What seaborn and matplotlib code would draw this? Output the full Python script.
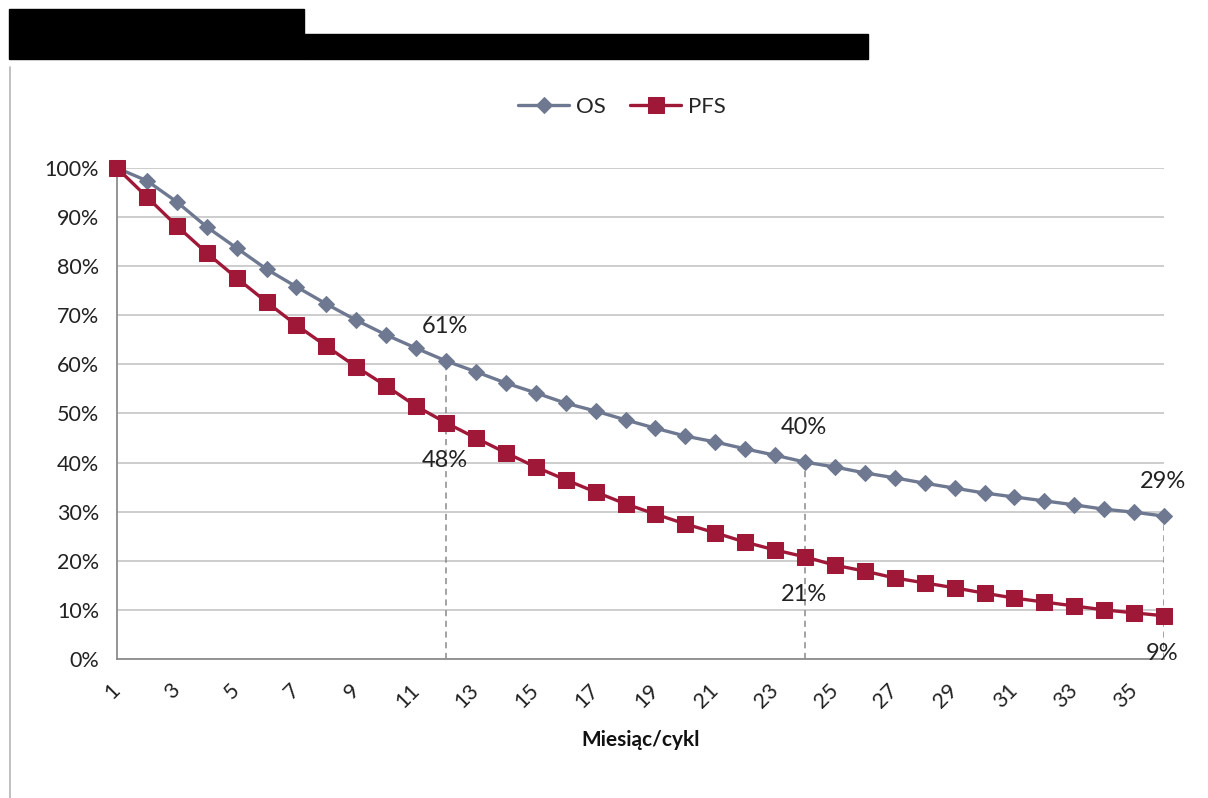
import matplotlib
matplotlib.use("Agg")
import matplotlib.pyplot as plt
from matplotlib.patches import Rectangle
from matplotlib.lines import Line2D
from matplotlib.ticker import FuncFormatter, MultipleLocator
import numpy as np
import pandas as pd
import seaborn as sns

# Survival curves by month / cycle
months = list(range(1, 37))
os_values = [1.000, 0.974, 0.931, 0.880, 0.837, 0.794, 0.758, 0.723, 0.690, 0.660,
             0.633, 0.607, 0.585, 0.562, 0.542, 0.521, 0.505, 0.487, 0.470, 0.454,
             0.442, 0.428, 0.415, 0.401, 0.391, 0.379, 0.369, 0.358, 0.348, 0.338,
             0.330, 0.322, 0.314, 0.305, 0.299, 0.291]
pfs_values = [1.000, 0.941, 0.882, 0.827, 0.776, 0.727, 0.680, 0.637, 0.595, 0.556,
              0.515, 0.481, 0.450, 0.420, 0.391, 0.365, 0.340, 0.316, 0.295, 0.275,
              0.257, 0.238, 0.222, 0.208, 0.191, 0.179, 0.165, 0.155, 0.145, 0.134,
              0.124, 0.116, 0.108, 0.100, 0.094, 0.088]
series_names = ["OS", "PFS"]
highlight_months = [12, 24, 36]
x_label = "Miesiąc/cykl"

OS_COLOR = "#6E7891"
PFS_COLOR = "#A01838"
GRID_COLOR = "#C9C9C9"
AXIS_COLOR = "#8C8C8C"

sns.set_theme(style="white")
plt.rcParams["font.family"] = ["Lato", "DejaVu Sans"]

df = pd.DataFrame({
    "month": months * 2,
    "value": os_values + pfs_values,
    "series": [series_names[0]] * len(months) + [series_names[1]] * len(months),
})

W, H = 1208, 798
fig = plt.figure(figsize=(W / 100, H / 100), dpi=100)
ax = fig.add_axes([117 / W, 1 - 659 / H, (1164 - 117) / W, (659 - 168) / H])

sns.lineplot(data=df[df.series == "OS"], x="month", y="value", ax=ax,
             color=OS_COLOR, lw=2.4, marker="D", markersize=8,
             markeredgecolor=OS_COLOR, label="OS", clip_on=False, zorder=4)
sns.lineplot(data=df[df.series == "PFS"], x="month", y="value", ax=ax,
             color=PFS_COLOR, lw=2.4, marker="s", markersize=11,
             markeredgecolor=PFS_COLOR, label="PFS", clip_on=False, zorder=5)

ax.set_xlim(1, 36)
ax.set_ylim(0, 1)

# gridlines and axes
ax.yaxis.set_major_locator(MultipleLocator(0.1))
ax.yaxis.set_major_formatter(FuncFormatter(lambda v, _: f"{round(v * 100)}%"))
ax.grid(axis="y", color=GRID_COLOR, lw=1.3)
ax.set_axisbelow(True)
for side in ["top", "right"]:
    ax.spines[side].set_visible(False)
for side in ["left", "bottom"]:
    ax.spines[side].set_color(AXIS_COLOR)
    ax.spines[side].set_linewidth(1.3)

ax.set_xticks(months)
ax.set_xticklabels([str(m) if m % 2 == 1 else "" for m in months],
                   rotation=45, ha="right", va="center", rotation_mode="anchor")
ax.tick_params(axis="x", direction="out", length=7, width=1.3, color=AXIS_COLOR,
               labelsize=15.5, pad=13, labelcolor="#222222")
ax.tick_params(axis="y", direction="out", length=7, width=1.3, color=AXIS_COLOR,
               labelsize=15.5, pad=6, labelcolor="#222222")
ax.set_xlabel(x_label, fontsize=15, fontweight="bold", labelpad=13, color="#111111")
ax.set_ylabel("")

# dashed markers and value labels at selected months
for m in highlight_months:
    i = months.index(m)
    ax.vlines(m, 0, os_values[i], colors="#8A8A8A", linestyles=(0, (4, 3)), lw=1.1, zorder=2)
    ax.text(m - 0.05, os_values[i] + 0.07, f"{round(os_values[i] * 100)}%",
            ha="center", va="center", fontsize=17, color="#222222")
    ax.text(m - 0.05, pfs_values[i] - 0.077, f"{round(pfs_values[i] * 100)}%",
            ha="center", va="center", fontsize=17, color="#222222")

leg = ax.legend(loc="center", bbox_to_anchor=(0.515, 1 - 107 / H),
                bbox_transform=fig.transFigure, ncol=2, frameon=False,
                fontsize=16, handlelength=2.3, columnspacing=1.1, handletextpad=0.3)

# redacted heading blocks and chart border
fig.patches.append(Rectangle((9 / W, 1 - 59 / H), (304 - 9) / W, 50 / H,
                             transform=fig.transFigure, color="black", zorder=10))
fig.patches.append(Rectangle((304 / W, 1 - 59 / H), (868 - 304) / W, 25 / H,
                             transform=fig.transFigure, color="black", zorder=10))
fig.lines.append(Line2D([10 / W, 10 / W], [0, 1 - 67 / H], transform=fig.transFigure,
                        color="#B5B5B5", lw=1.2))

fig.savefig("out.png", dpi=100, facecolor="white")
